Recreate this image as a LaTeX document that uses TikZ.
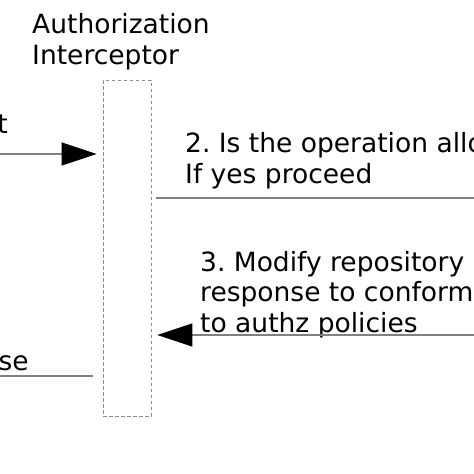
\documentclass[tikz,border=0pt]{standalone}
\usepackage{fontspec}
\setmainfont{DejaVu Sans}
\usetikzlibrary{arrows.meta}
\tikzset{
  msg/.style={draw=black!50, line width=1.2pt},
  msgarrow/.style={msg, -{Triangle[length=35pt,width=23pt,black]}},
  lbl/.style={anchor=base west, inner sep=0pt, align=left, font=\fontsize{26.5}{30.5}\selectfont\frenchspacing},
}
\begin{document}
\begin{tikzpicture}[x=1pt, y=-1pt]
			%%%%% START %%%%%
			\useasboundingbox (0, 0) rectangle (474, 474);
			\clip (0, 0) rectangle (474, 474);
			
			% interceptor box
			\node[lbl] (title) at (32, 64) {Authorization\\Interceptor};
			\node[draw=black!45, dash pattern=on 3.5pt off 2.5pt, line width=0.8pt,
				minimum width=48pt, minimum height=336pt, inner sep=0pt] (icpt) at (127, 248) {};
			
			% 1. incoming request
			\node[lbl, anchor=base east] (reqlbl) at (8, 133) {t};
			\coordinate (reqfrom) at (-20, 154);
			\draw[msgarrow, shorten >=6pt] (reqfrom) -- (reqfrom -| icpt.west);
			
			% 2. check
			\node[lbl] (asklbl) at (185, 183) {2. Is the operation allo\\If yes proceed};
			\coordinate (askto) at (500, 198);
			\draw[msg, shorten <=5pt] (icpt.east |- askto) -- (askto);
			
			% 3. modified response
			\node[lbl] (modlbl) at (200, 332) {3. Modify repository\\response to conform\\to authz policies};
			\coordinate (modfrom) at (500, 335);
			\draw[msgarrow, shorten >=6pt] (modfrom) -- (modfrom -| icpt.east);
			
			% 4. outgoing response
			\node[lbl, anchor=base east] (resplbl) at (29, 370) {se};
			\coordinate (respto) at (-20, 376);
			\draw[msg, shorten <=10pt] (icpt.west |- respto) -- (respto);
			%%%%% END %%%%%
\end{tikzpicture}
\end{document}
